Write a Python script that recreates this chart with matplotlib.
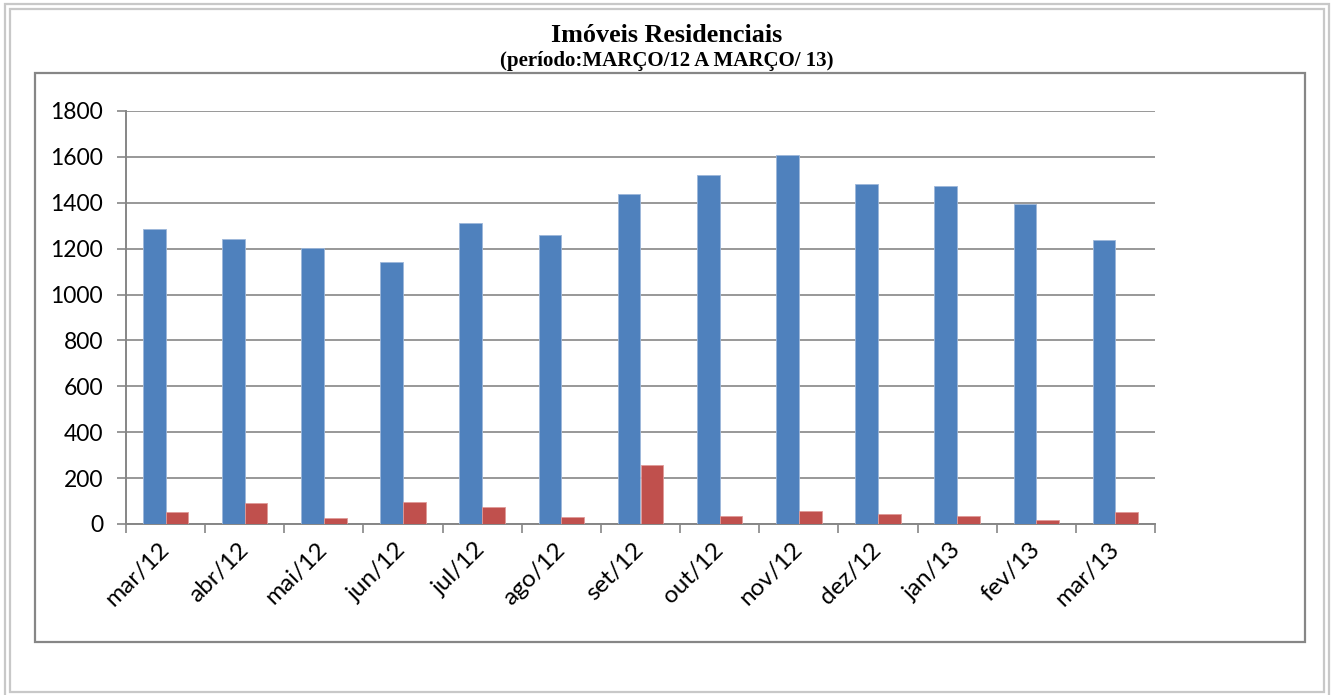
import matplotlib
matplotlib.use("Agg")
import matplotlib.pyplot as plt
from matplotlib.patches import Rectangle
import numpy as np

meses = ["mar/12", "abr/12", "mai/12", "jun/12", "jul/12", "ago/12", "set/12",
         "out/12", "nov/12", "dez/12", "jan/13", "fev/13", "mar/13"]
serie_azul = [1284, 1242, 1201, 1142, 1310, 1258, 1437, 1523, 1607, 1484, 1473, 1396, 1239]
serie_vermelha = [54, 93, 26, 94, 76, 32, 257, 35, 55, 42, 35, 17, 51]
yticks = [0, 200, 400, 600, 800, 1000, 1200, 1400, 1600, 1800]

W, H = 1334, 695
fig = plt.figure(figsize=(W / 100, H / 100), dpi=100)
fig.patch.set_facecolor("white")


def px_rect(x0, y0, x1, y1, cor, lw):
    # retangulo em pixels (origem no canto superior esquerdo)
    r = Rectangle((x0 / W, 1 - y1 / H), (x1 - x0) / W, (y1 - y0) / H,
                  transform=fig.transFigure, fill=False, edgecolor=cor,
                  linewidth=lw, zorder=0)
    fig.patches.append(r)


# bordas externas (duplas) e area do grafico
px_rect(4.5, 3.5, 1329, 699, "#c8c8c8", 1.6)
px_rect(9.5, 8.5, 1323.5, 692, "#c8c8c8", 1.6)
px_rect(34.5, 73, 1305, 642, "#868686", 1.6)

ax = fig.add_axes([126 / W, 1 - 524 / H, (1155 - 126) / W, (524 - 111) / H])

x = np.arange(len(meses))
w = 0.287
ax.bar(x - w / 2, serie_azul, w, color="#4F81BD", edgecolor="#9db7da", linewidth=0.6, zorder=3)
ax.bar(x + w / 2, serie_vermelha, w, color="#C0504D", edgecolor="#e09a98", linewidth=0.6, zorder=3)

ax.set_xlim(-0.5, len(meses) - 0.5)
ax.set_ylim(0, 1800)
ax.set_yticks(yticks)
ax.set_yticklabels([str(v) for v in yticks], fontsize=16.5, family="Lato")
ax.yaxis.grid(True, color="#868686", linewidth=1.2, zorder=0)
ax.set_axisbelow(True)

ax.set_xticks(x)
ax.set_xticklabels(meses, fontsize=17.5, family="Lato", rotation=45,
                   ha="right", va="center", rotation_mode="anchor")
ax.set_xticks(np.arange(len(meses) + 1) - 0.5, minor=True)
ax.tick_params(axis="x", which="major", length=0, pad=16)
ax.tick_params(axis="x", which="minor", length=6.5, width=1.2, color="#868686", direction="out")
ax.tick_params(axis="y", length=6.5, width=1.2, color="#868686", pad=10)

for s in ["top", "right"]:
    ax.spines[s].set_visible(False)
for s in ["left", "bottom"]:
    ax.spines[s].set_color("#868686")
    ax.spines[s].set_linewidth(1.4)

fig.text(0.5, 1 - 35 / H, "Imóveis Residenciais", ha="center", va="center",
         fontsize=18.8, fontweight="bold", family="Liberation Serif")
fig.text(0.5, 1 - 61 / H, "(período:MARÇO/12 A MARÇO/ 13)", ha="center", va="center",
         fontsize=15, fontweight="bold", family="Liberation Serif")

fig.savefig("out.png", dpi=100)
